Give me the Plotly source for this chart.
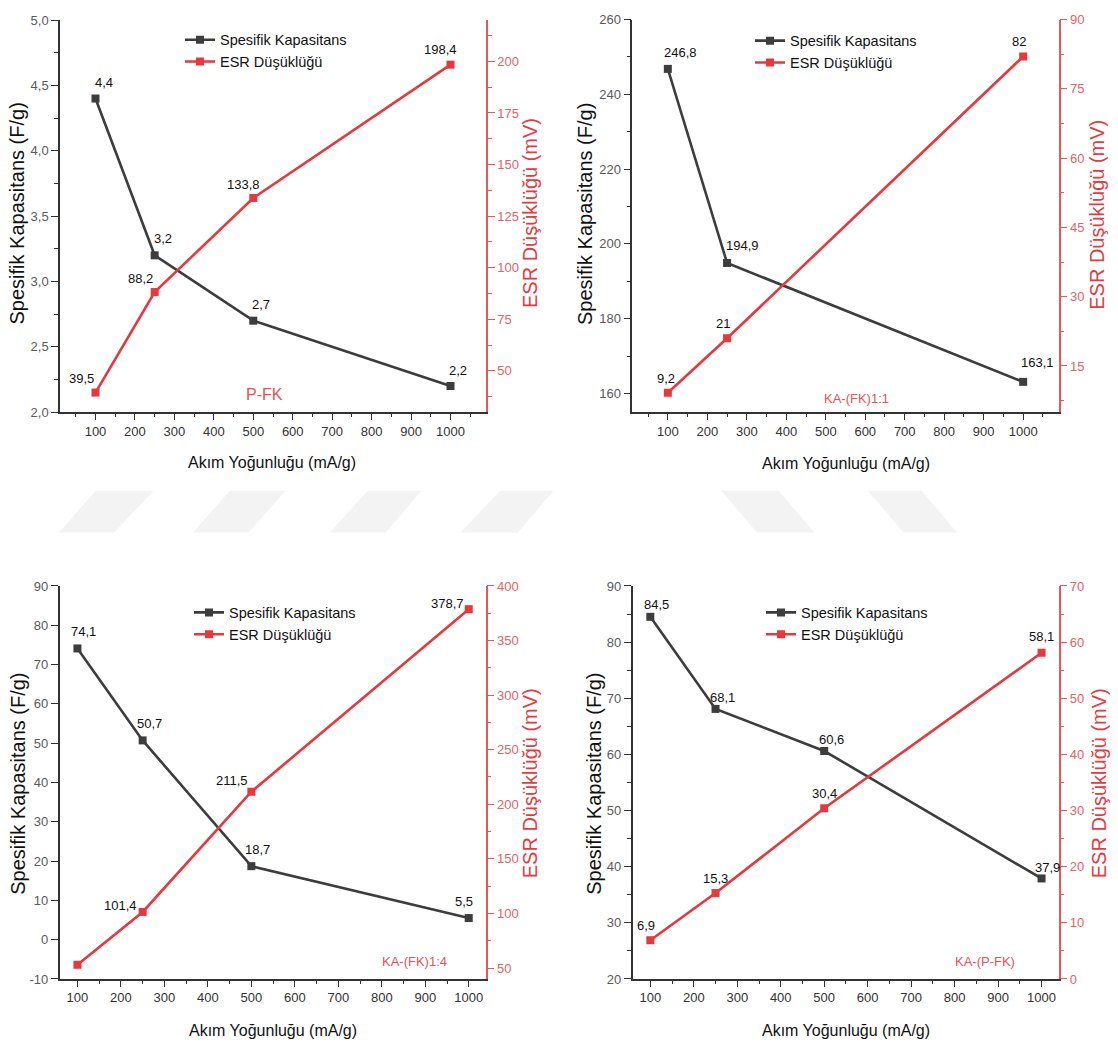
import plotly.graph_objects as go

# ---------------- data ----------------
current_density = [100, 250, 500, 1000]
current_density_ka11 = [100, 250, 1000]

pfk_capacitance = [4.4, 3.2, 2.7, 2.2]
pfk_esr = [39.5, 88.2, 133.8, 198.4]

ka11_capacitance = [246.8, 194.9, 163.1]
ka11_esr = [9.2, 21, 82]

ka14_capacitance = [74.1, 50.7, 18.7, 5.5]
ka14_esr = [53, 101.4, 211.5, 378.7]
ka14_esr_labelled = [False, True, True, True]

kapfk_capacitance = [84.5, 68.1, 60.6, 37.9]
kapfk_esr = [6.9, 15.3, 30.4, 58.1]

panel_names = ["P-FK", "KA-(FK)1:1", "KA-(FK)1:4", "KA-(P-FK)"]
series_names = ["Spesifik Kapasitans", "ESR Düşüklüğü"]
x_title = "Akım Yoğunluğu (mA/g)"
left_title = "Spesifik Kapasitans (F/g)"
right_title = "ESR Düşüklüğü (mV)"
x_tick_values = [100, 200, 300, 400, 500, 600, 700, 800, 900, 1000]
ka14_left_tickvals = [-10, 0, 10, 20, 30, 40, 50, 60, 70, 80, 90]
ka14_left_ticktext = ["-10", "0", "10", "20", "30", "40", "50", "60", "70", "80", "90"]

# ---------------- style ----------------
W, H = 1118, 1054
NARROW = "Liberation Sans Narrow, Arial Narrow, Liberation Sans, Arial, sans-serif"
REG = "Liberation Sans, Arial, sans-serif"
DARK = "#3d3d3d"
RED = "#e8373d"
RED_AX = "#e5585a"
RED_TXT = "#e06468"
TICK_SIZE = 13
LABEL_SIZE = 13


def px(x):
    return x / W


def py(y):
    return 1 - y / H


def fmt(v):
    return f"{v:g}".replace(".", ",")


panels = [
    dict(x=current_density, cap=pfk_capacitance, esr=pfk_esr, esr_lab=[True] * 4,
         box=(60, 486, 13.3, 411), xr=[10, 1090], yl=[2, 5], yr=[30, 220],
         yl_dtick=0.5, yl_minor=0.25, yl_fmt=".1f", yr_dtick=25, yr_minor=12.5,
         cap_off=[(8, 16), (8, 17), (8, 16), (7, 16)],
         esr_off=[(-14, 14), (-14, 14), (-10, 13), (-10, 15)],
         leg=(180, 17), tag=(264, 393.3), tag_size=16,
         lt=(17, 209.5), rt=(530, 209), xt=(272.3, 461.7)),
    dict(x=current_density_ka11, cap=ka11_capacitance, esr=ka11_esr, esr_lab=[True] * 3,
         box=(632.3, 1058.7, 12.7, 411), xr=[10, 1090], yl=[155, 260], yr=[5, 90],
         yl_dtick=20, yl_minor=10, yl_fmt="d", yr_dtick=15, yr_minor=7.5,
         cap_off=[(13, 16), (15, 17), (14, 19)],
         esr_off=[(-2, 14), (-4, 15), (-4, 15)],
         leg=(750, 18), tag=(856.3, 396.7), tag_size=13,
         lt=(585, 210), rt=(1097, 210.8), xt=(845.7, 463)),
    dict(x=current_density, cap=ka14_capacitance, esr=ka14_esr, esr_lab=ka14_esr_labelled,
         box=(59.6, 485.7, 587.3, 986), xr=[59, 1039], yl=[-10, 90], yr=[40, 400],
         yl_dtick=10, yl_minor=None, yl_fmt="d", yr_dtick=50, yr_minor=25,
         cap_off=[(6, 17), (7, 17), (6, 17), (-5, 17)],
         esr_off=[(0, 0), (-22, 6), (-19, 11), (-21, 6)],
         leg=(189, 598), tag=(414.3, 968.3), tag_size=13,
         lt=(18, 788), rt=(530, 787.5), xt=(273.2, 1038.3)),
    dict(x=current_density, cap=kapfk_capacitance, esr=kapfk_esr, esr_lab=[True] * 4,
         box=(632.5, 1058.5, 587.3, 986), xr=[59, 1039], yl=[20, 90], yr=[0, 70],
         yl_dtick=10, yl_minor=5, yl_fmt="d", yr_dtick=10, yr_minor=5,
         cap_off=[(6, 12), (7, 11), (7, 12), (6, 11)],
         esr_off=[(-4, 15), (0, 15), (0, 15), (0, 16)],
         leg=(761, 598), tag=(985, 968.3), tag_size=13,
         lt=(594, 788), rt=(1099, 787.5), xt=(845.7, 1038.3)),
]


def nm(n):
    return "" if n == 1 else str(n)


fig = go.Figure()
layout = dict(
    width=W, height=H, margin=dict(l=0, r=0, t=0, b=0),
    paper_bgcolor="white", plot_bgcolor="white",
    separators=",.", showlegend=True,
    font=dict(family=NARROW, color="#222"),
)
annotations = []
shapes = []

for i, p in enumerate(panels):
    k = i + 1
    xa, ya, yb, xt = k, k, k + 4, k + 4
    l, r, t, b = p["box"]
    xdom = [px(l), px(r)]
    ydom = [py(b), py(t)]
    legname = "legend" + nm(k)

    # traces
    fig.add_trace(go.Scatter(
        x=p["x"], y=p["cap"], mode="lines+markers", name=series_names[0],
        line=dict(color=DARK, width=2.6), marker=dict(symbol="square", size=8, color=DARK),
        xaxis="x" + nm(xa), yaxis="y" + nm(ya), legend=legname, cliponaxis=False))
    fig.add_trace(go.Scatter(
        x=p["x"], y=p["esr"], mode="lines+markers", name=series_names[1],
        line=dict(color=RED, width=2.6), marker=dict(symbol="square", size=8, color=RED),
        xaxis="x" + nm(xa), yaxis="y" + nm(yb), legend=legname, cliponaxis=False))

    # bottom x axis
    layout["xaxis" + nm(xa)] = dict(
        domain=xdom, range=p["xr"], anchor="y" + nm(ya),
        tickvals=x_tick_values, ticks="outside", ticklen=6, tickwidth=1.3, tickcolor="#333",
        minor=dict(dtick=50, tick0=0, ticks="outside", ticklen=3, tickwidth=1.2, tickcolor="#333"),
        showline=True, linecolor="#333", linewidth=1.5, showgrid=False, zeroline=False,
        tickfont=dict(family=NARROW, size=TICK_SIZE, color="#333"), fixedrange=True)
    # top mirror axis (ticks inside)
    layout["xaxis" + nm(xt)] = dict(
        domain=xdom, range=p["xr"], anchor="y" + nm(ya), overlaying="x" + nm(xa), side="top",
        tickvals=x_tick_values, ticks="inside", ticklen=5, tickwidth=1.3, tickcolor="#333",
        minor=dict(dtick=50, tick0=0, ticks="inside", ticklen=3, tickwidth=1.2, tickcolor="#333"),
        showline=True, linecolor="#333", linewidth=1.5, showgrid=False, zeroline=False,
        showticklabels=False, fixedrange=True)
    # left y axis
    yl = dict(
        domain=ydom, range=p["yl"], anchor="x" + nm(xa),
        ticks="outside", ticklen=7, tickwidth=1.3, tickcolor="#333",
        showline=True, linecolor="#333", linewidth=1.5, showgrid=False, zeroline=False,
        tickfont=dict(family=NARROW, size=TICK_SIZE, color="#5a5a5a"), fixedrange=True)
    if k == 3:
        yl.update(tickvals=ka14_left_tickvals, ticktext=ka14_left_ticktext)
    else:
        yl.update(dtick=p["yl_dtick"], tick0=0, tickformat=p["yl_fmt"])
    if p["yl_minor"]:
        yl["minor"] = dict(dtick=p["yl_minor"], tick0=0, ticks="outside", ticklen=4,
                           tickwidth=1.2, tickcolor="#333")
    layout["yaxis" + nm(ya)] = yl
    # right y axis
    layout["yaxis" + nm(yb)] = dict(
        range=p["yr"], anchor="x" + nm(xa), overlaying="y" + nm(ya), side="right",
        dtick=p["yr_dtick"], tick0=0, tickformat="d",
        ticks="outside", ticklen=7, tickwidth=1.3, tickcolor=RED_AX,
        minor=dict(dtick=p["yr_minor"], tick0=0, ticks="outside", ticklen=4,
                   tickwidth=1.2, tickcolor=RED_AX),
        showline=True, linecolor=RED_AX, linewidth=1.5, showgrid=False, zeroline=False,
        tickfont=dict(family=NARROW, size=TICK_SIZE, color=RED_TXT), fixedrange=True)

    # legend
    lx, ly = p["leg"]
    layout[legname] = dict(
        x=px(lx), y=py(ly), xanchor="left", yanchor="top", bgcolor="rgba(0,0,0,0)",
        font=dict(family=NARROW, size=14.5, color="#111"), tracegroupgap=0,
        itemwidth=30, itemclick=False, itemdoubleclick=False)

    # value labels
    for xv, yv, (dx, dy) in zip(p["x"], p["cap"], p["cap_off"]):
        annotations.append(dict(
            x=xv, y=yv, xref="x" + nm(xa), yref="y" + nm(ya), text=fmt(yv), showarrow=False,
            xanchor="center", yanchor="middle", xshift=dx, yshift=dy,
            font=dict(family=NARROW, size=LABEL_SIZE, color="#111")))
    for xv, yv, show, (dx, dy) in zip(p["x"], p["esr"], p["esr_lab"], p["esr_off"]):
        if not show:
            continue
        annotations.append(dict(
            x=xv, y=yv, xref="x" + nm(xa), yref="y" + nm(yb), text=fmt(yv), showarrow=False,
            xanchor="center", yanchor="middle", xshift=dx, yshift=dy,
            font=dict(family=NARROW, size=LABEL_SIZE, color="#111")))

    # axis titles
    annotations.append(dict(
        x=px(p["lt"][0]), y=py(p["lt"][1]), xref="paper", yref="paper", text=left_title,
        showarrow=False, textangle=-90, xanchor="center", yanchor="middle",
        font=dict(family=REG, size=20, color="#111")))
    annotations.append(dict(
        x=px(p["rt"][0]), y=py(p["rt"][1]), xref="paper", yref="paper", text=right_title,
        showarrow=False, textangle=-90, xanchor="center", yanchor="middle",
        font=dict(family=REG, size=20, color="#e23b40")))
    annotations.append(dict(
        x=px(p["xt"][0]), y=py(p["xt"][1]), xref="paper", yref="paper", text=x_title,
        showarrow=False, xanchor="center", yanchor="middle",
        font=dict(family=NARROW, size=16, color="#111")))
    # panel tag
    annotations.append(dict(
        x=px(p["tag"][0]), y=py(p["tag"][1]), xref="paper", yref="paper", text=panel_names[i],
        showarrow=False, xanchor="center", yanchor="middle",
        font=dict(family=NARROW, size=p["tag_size"], color="#e25458")))

# faint watermark stripes in the gap between rows
stripes = [
    [(59, 533), (114, 533), (153.6, 490.7), (96, 490.7)],
    [(193, 533), (248.6, 533), (285.7, 490.7), (230, 490.7)],
    [(330, 533), (385.7, 533), (421.4, 490.7), (367.9, 490.7)],
    [(460.7, 533), (517.9, 533), (553.6, 490.7), (500, 490.7)],
    [(721.4, 490.7), (778.6, 490.7), (814.3, 533), (757, 533)],
    [(867.9, 490.7), (921.4, 490.7), (957, 533), (903.6, 533)],
]
for poly in stripes:
    path = "M " + " L ".join(f"{px(a):.5f},{py(c):.5f}" for a, c in poly) + " Z"
    shapes.append(dict(type="path", xref="paper", yref="paper", path=path,
                       fillcolor="#f3f3f3", line=dict(width=0), layer="below"))

layout["annotations"] = annotations
layout["shapes"] = shapes
fig.update_layout(**layout)
fig.write_html("out.html")
